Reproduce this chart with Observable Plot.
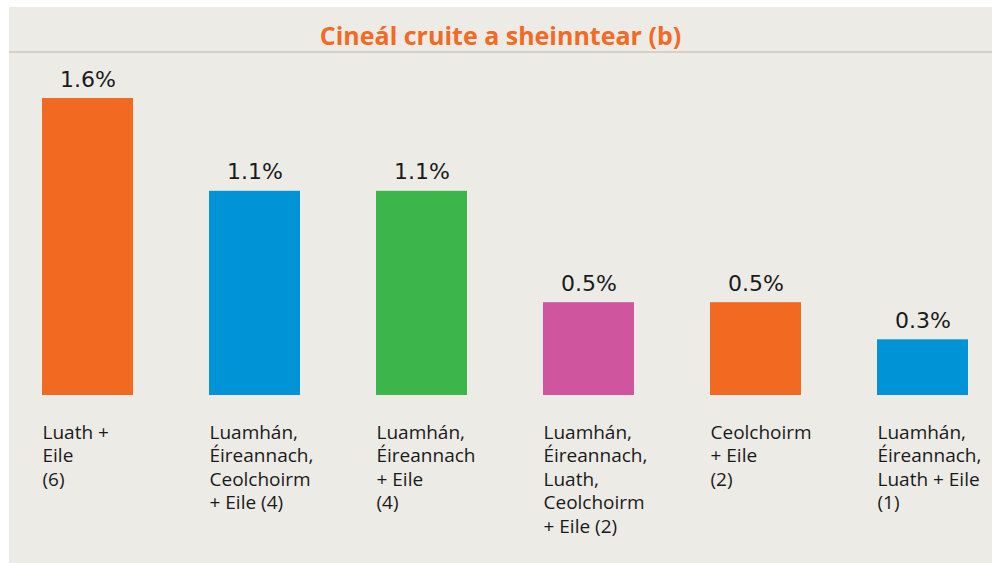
<!DOCTYPE html>
<html>
<head>
<meta charset="utf-8">
<script src="https://cdn.jsdelivr.net/npm/d3@7"></script>
<script src="https://cdn.jsdelivr.net/npm/@observablehq/plot@0.6"></script>
<style>
  html, body { margin: 0; padding: 0; background: #ffffff; }
  #page { position: relative; width: 992px; height: 563px; overflow: hidden; }
  #panel { position: absolute; left: 9px; top: 7px; width: 983px; height: 556px; background: #ecebe6; }
  #title { position: absolute; left: 9px; top: 7px; width: 983px; height: 38px; padding-top: 6px;
           border-bottom: 2px solid #d5d2c5; text-align: center;
           font-family: "Open Sans", sans-serif; font-weight: 700; font-size: 25px;
           line-height: 44px; color: #f26a24; overflow: visible; }
  #chart { position: absolute; left: 0; top: 0; }
</style>
</head>
<body>
<div id="page">
  <div id="panel"></div>
  <div id="title">Cineál cruite a sheinntear (b)</div>
  <div id="chart"></div>
</div>
<script>
const categories = [
  "Luath +\nEile\n(6)",
  "Luamhán,\nÉireannach,\nCeolchoirm\n+ Eile (4)",
  "Luamhán,\nÉireannach\n+ Eile\n(4)",
  "Luamhán,\nÉireannach,\nLuath,\nCeolchoirm\n+ Eile (2)",
  "Ceolchoirm\n+ Eile\n(2)",
  "Luamhán,\nÉireannach,\nLuath + Eile\n(1)"
];
const values = [1.6, 1.1, 1.1, 0.5, 0.5, 0.3];
const colors = ["#f26922", "#0094d6", "#3cb54a", "#cf559f", "#f26922", "#0094d6"];

const data = categories.map((c, i) => ({category: c, value: values[i], color: colors[i]}));

const bandwidth = 91;
const chart = Plot.plot({
  width: 992,
  height: 563,
  marginLeft: 42,
  marginRight: 23,
  marginTop: 98,
  marginBottom: 168,
  style: {background: "transparent", overflow: "visible"},
  x: {domain: categories, paddingInner: 0.455, paddingOuter: 0, axis: null},
  y: {domain: [0, 1.6], axis: null},
  color: {type: "identity"},
  marks: [
    Plot.barY(data, {x: "category", y: "value", fill: "color"}),
    Plot.text(data, {
      x: "category", y: "value", text: d => d.value.toFixed(1) + "%",
      dy: -12, lineAnchor: "bottom", fontSize: 22,
      fontFamily: "DejaVu Sans", fill: "#1a1a1a"
    }),
    Plot.text(data, {
      x: "category", text: "category", frameAnchor: "bottom",
      lineAnchor: "top", textAnchor: "start", dx: -bandwidth / 2, dy: 27,
      lineHeight: 1.23, fontSize: 19, fontFamily: "Open Sans", fill: "#1a1a1a"
    })
  ]
});
document.getElementById("chart").appendChild(chart);
</script>
</body>
</html>
